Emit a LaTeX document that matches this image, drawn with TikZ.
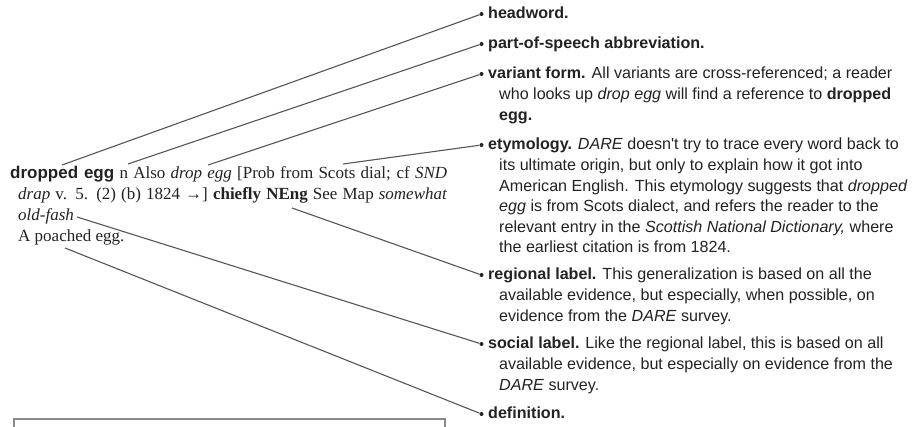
\documentclass[tikz,border=0pt]{standalone}
\usepackage{fontspec}
\setmainfont{Liberation Serif}
\newfontfamily\labfont{Liberation Sans}
\definecolor{txt}{HTML}{222222}
\definecolor{linegray}{HTML}{555555}
\definecolor{boxgray}{HTML}{8A8A8A}
\begin{document}
\begin{tikzpicture}[x=1pt,y=-1pt,
  conn/.style={draw=linegray, line width=1.1pt},
  dotnode/.style={circle, fill=txt, inner sep=0pt, minimum size=4pt},
  rtext/.style={anchor=base west, inner sep=0pt, align=left, text=txt,
    font=\labfont\fontsize{16.1}{20.6}\selectfont},
  ltext/.style={anchor=base west, inner sep=0pt, text=txt,
    font=\fontsize{17}{21}\selectfont}]
\useasboundingbox (0,0) rectangle (913,427);

% ---- entry (left) ----
\node[ltext] (l1) at (10,179) {\makebox[437pt][s]{{\labfont\bfseries dropped egg} n Also \textit{drop egg} [Prob from Scots dial; cf \textit{SND}}};
\node[ltext] (l2) at (18,200) {\makebox[429pt][s]{\textit{drap} v. 5. (2) (b) 1824 →] \textbf{chiefly NEng} See Map \textit{somewhat}}};
\node[ltext] (l3) at (18,221) {\textit{old-fash}};
\node[ltext] (l4) at (18,242) {A poached egg.};

% ---- explanations (right); node base = baseline of last line ----
\node[dotnode] (dhead) at (481.5,14) {};
\node[rtext] (thead) at (488,19) {\textbf{headword.}};
\node[dotnode] (dpos) at (481.5,44) {};
\node[rtext] (tpos) at (488,49) {\textbf{part-of-speech abbreviation.}};
\node[dotnode] (dvar) at (481.5,74) {};
\node[rtext] (tvar) at (488,120.2) {\textbf{variant form.} All variants are cross-referenced; a reader\\
\hspace*{11pt}who looks up \textit{drop egg} will find a reference to \textbf{dropped}\\
\hspace*{11pt}\textbf{egg.}};
\node[dotnode] (dety) at (481.5,145) {};
\node[rtext] (tety) at (488,253) {\textbf{etymology.} \textit{DARE} doesn't try to trace every word back to\\
\hspace*{11pt}its ultimate origin, but only to explain how it got into\\
\hspace*{11pt}American English. This etymology suggests that \textit{dropped}\\
\hspace*{11pt}\textit{egg} is from Scots dialect, and refers the reader to the\\
\hspace*{11pt}relevant entry in the \textit{Scottish National Dictionary,} where\\
\hspace*{11pt}the earliest citation is from 1824.};
\node[dotnode] (dreg) at (481.5,275) {};
\node[rtext] (treg) at (488,321.2) {\textbf{regional label.} This generalization is based on all the\\
\hspace*{11pt}available evidence, but especially, when possible, on\\
\hspace*{11pt}evidence from the \textit{DARE} survey.};
\node[dotnode] (dsoc) at (481.5,344) {};
\node[rtext] (tsoc) at (488,390.2) {\textbf{social label.} Like the regional label, this is based on all\\
\hspace*{11pt}available evidence, but especially on evidence from the\\
\hspace*{11pt}\textit{DARE} survey.};
\node[dotnode] (ddef) at (481.5,414) {};
\node[rtext] (tdef) at (488,419) {\textbf{definition.}};

% ---- connector start points ----
\coordinate (shead) at (62,165);
\coordinate (spos) at (128,164);
\coordinate (svar) at (208,165);
\coordinate (sety) at (343,164);
\coordinate (sreg) at (292,208);
\coordinate (ssoc) at (77,217);
\coordinate (sdef) at (65,248);

\draw[conn] (shead) -- (dhead);
\draw[conn] (spos) -- (dpos);
\draw[conn] (svar) -- (dvar);
\draw[conn] (sety) -- (dety);
\draw[conn] (sreg) -- (dreg);
\draw[conn] (ssoc) -- (dsoc);
\draw[conn] (sdef) -- (ddef);

% ---- box at bottom ----
\draw[boxgray, line width=1.2pt] (14,430) -- (14,419) -- (445,419) -- (445,430);
\end{tikzpicture}
\end{document}
